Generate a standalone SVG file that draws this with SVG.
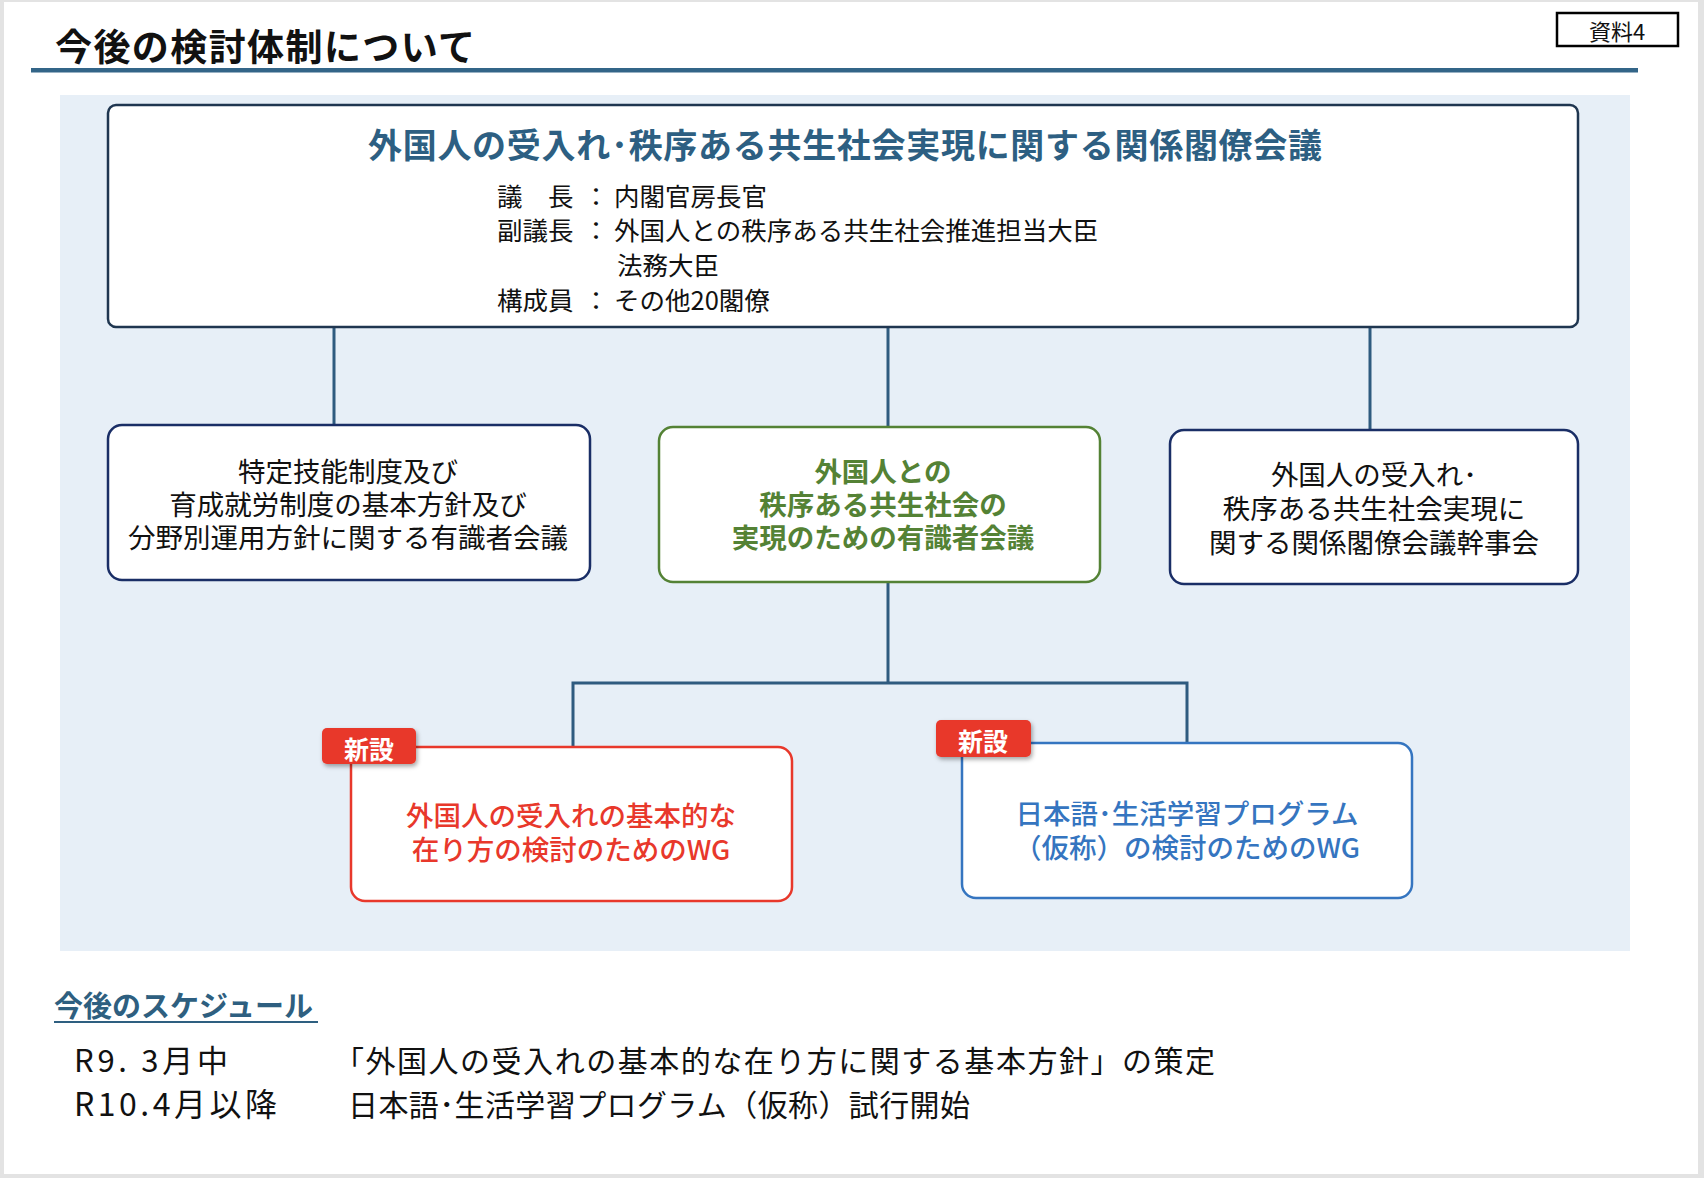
<svg xmlns="http://www.w3.org/2000/svg" width="1704" height="1178" viewBox="0 0 1704 1178">
<style>
text{font-family:"Noto Sans CJK JP","Noto Sans",sans-serif}
.k{fill:#111}
.b{font-weight:700}
.conn{stroke:#2f5b7f;stroke-width:3;fill:none}
.badge{fill:#e8382b;filter:url(#sh)}
.bt{fill:#fff;font-size:25px;font-weight:700;text-anchor:middle}
.mid{text-anchor:middle;font-size:27.5px}
</style>
<defs>
<filter id="sh" x="-20%" y="-20%" width="150%" height="160%"><feDropShadow dx="1.5" dy="2.5" stdDeviation="2" flood-color="#000" flood-opacity="0.35"/></filter>
</defs>
<rect x="0" y="0" width="1704" height="1178" fill="#e3e3e3"/>
<rect x="4" y="2" width="1694" height="1172" fill="#ffffff"/>
<g id="header">
<text x="55" y="61" font-size="37" class="k b" textLength="420">今後の検討体制について</text>
<rect x="31" y="68" width="1607" height="4.5" fill="#336588"/>
</g>
<g id="doc-label">
<rect x="1557" y="13" width="121" height="33" fill="#fff" stroke="#000" stroke-width="2.5"/>
<text x="1617" y="40" font-size="22" text-anchor="middle" class="k">資料4</text>
</g>
<rect id="panel" x="60" y="95" width="1570" height="856" fill="#e7eff7"/>
<g id="connectors">
<line class="conn" x1="334" y1="327" x2="334" y2="425"/>
<line class="conn" x1="888" y1="327" x2="888" y2="427"/>
<line class="conn" x1="1370" y1="327" x2="1370" y2="430"/>
<line class="conn" x1="888" y1="582" x2="888" y2="683"/>
<polyline class="conn" points="573,747 573,683 1187,683 1187,743"/>
</g>
<g id="cabinet-council">
<rect x="108" y="105" width="1470" height="222" rx="8" fill="#fff" stroke="#1f3650" stroke-width="2.5"/>
<text x="845" y="158" font-size="34" text-anchor="middle" class="b" fill="#2d5f82" textLength="954">外国人の受入れ･秩序ある共生社会実現に関する関係閣僚会議</text>
<g font-size="25.5" class="k">
<text x="497" y="206">議　長</text><text x="596" y="206" text-anchor="middle">：</text><text x="614" y="206">内閣官房長官</text>
<text x="497" y="240">副議長</text><text x="596" y="240" text-anchor="middle">：</text><text x="614" y="240">外国人との秩序ある共生社会推進担当大臣</text>
<text x="617" y="275">法務大臣</text>
<text x="497" y="310">構成員</text><text x="596" y="310" text-anchor="middle">：</text><text x="614" y="310">その他20閣僚</text>
</g>
</g>
<g id="expert-ssw">
<rect x="108" y="425" width="482" height="155" rx="14" fill="#fff" stroke="#1a2e66" stroke-width="2.5"/>
<text class="mid k" x="348" y="482">特定技能制度及び</text>
<text class="mid k" x="348" y="515">育成就労制度の基本方針及び</text>
<text class="mid k" x="348" y="548">分野別運用方針に関する有識者会議</text>
</g>
<g id="expert-coexist">
<rect x="659" y="427" width="441" height="155" rx="14" fill="#fff" stroke="#548235" stroke-width="2.5"/>
<text class="mid b" fill="#548235" x="883" y="482">外国人との</text>
<text class="mid b" fill="#548235" x="883" y="515">秩序ある共生社会の</text>
<text class="mid b" fill="#548235" x="883" y="548">実現のための有識者会議</text>
</g>
<g id="secretariat">
<rect x="1170" y="430" width="408" height="154" rx="14" fill="#fff" stroke="#1a2e66" stroke-width="2.5"/>
<text class="mid k" x="1374" y="485">外国人の受入れ･</text>
<text class="mid k" x="1374" y="519">秩序ある共生社会実現に</text>
<text class="mid k" x="1374" y="553">関する関係閣僚会議幹事会</text>
</g>
<g id="wg-acceptance">
<rect x="351" y="747" width="441" height="154" rx="14" fill="#fff" stroke="#e8382b" stroke-width="2.5"/>
<text class="mid" font-weight="500" fill="#e8382b" x="571" y="826">外国人の受入れの基本的な</text>
<text class="mid" font-weight="500" fill="#e8382b" x="571" y="860">在り方の検討のためのWG</text>
<rect class="badge" x="322" y="728" width="94" height="36" rx="5"/>
<text class="bt" x="369" y="759">新設</text>
</g>
<g id="wg-japanese">
<rect x="962" y="743" width="450" height="155" rx="14" fill="#fff" stroke="#3575c0" stroke-width="2.5"/>
<text class="mid" font-weight="500" fill="#3575c0" x="1187" y="824">日本語･生活学習プログラム</text>
<text class="mid" font-weight="500" fill="#3575c0" x="1187" y="858">（仮称）の検討のためのWG</text>
<rect class="badge" x="936" y="720" width="95" height="37" rx="5"/>
<text class="bt" x="983" y="751">新設</text>
</g>
<g id="schedule">
<text x="54" y="1017" font-size="29" class="b" fill="#2e5f80">今後のスケジュール</text>
<line x1="54" y1="1022" x2="318" y2="1022" stroke="#2e5f80" stroke-width="2"/>
<text x="74" y="1072" font-size="31" class="k" textLength="154">R9. 3月中</text>
<text x="74" y="1116" font-size="32" class="k" textLength="203">R10.4月以降</text>
<text x="334" y="1072" font-size="30" class="k" textLength="881">「外国人の受入れの基本的な在り方に関する基本方針」の策定</text>
<text x="348" y="1116" font-size="30" class="k" textLength="622">日本語･生活学習プログラム（仮称）試行開始</text>
</g>
</svg>
